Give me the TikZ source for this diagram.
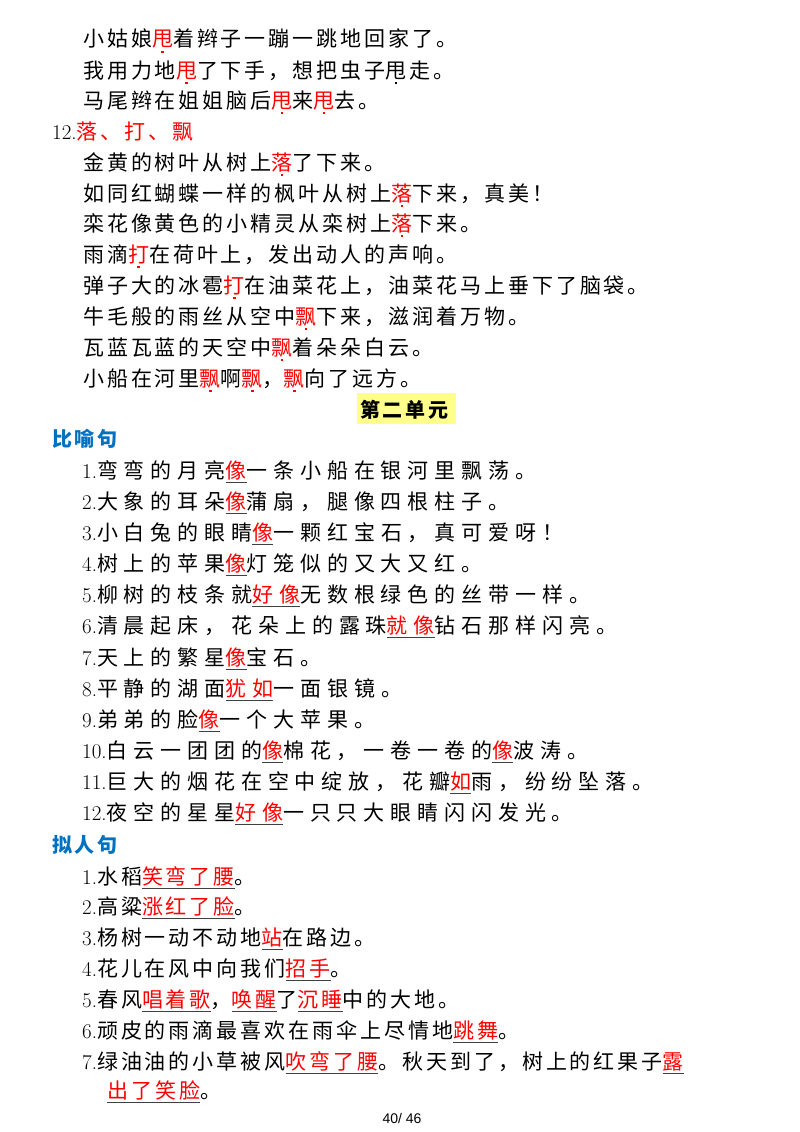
\documentclass[tikz,border=0pt]{standalone}
\usepackage{fontspec}
\setmainfont{Latin Modern Roman}
\newfontfamily\cjka[LetterSpace=14]{Noto Sans CJK SC}
\newfontfamily\cjkb[LetterSpace=28]{Noto Sans CJK SC}
\newfontfamily\pgfont{Liberation Sans}
\definecolor{hblue}{RGB}{0,112,192}
\definecolor{hyel}{RGB}{255,255,140}
\newlength\mywd
\newcommand\Dr[1]{\settowidth{\mywd}{#1}\leavevmode\rlap{\hbox to\mywd{\hss\textcolor{red}{\rule[-6pt]{2.4pt}{2.4pt}}\hss}}\textcolor{red}{#1}}
\newcommand\Dk[1]{\settowidth{\mywd}{#1}\leavevmode\rlap{\hbox to\mywd{\hss\rule[-6pt]{2.4pt}{2.4pt}\hss}}#1}
\newcommand\Rr[1]{\textcolor{red}{#1}}
\newcommand\Ul[1]{\settowidth{\mywd}{#1}\leavevmode\rlap{\textcolor{black!75}{\rule[-5pt]{\mywd}{0.8pt}}}\textcolor{red}{#1}}
\newcommand\N[1]{{\rmfamily\fontsize{21}{21}\selectfont #1}}
\begin{document}
\begin{tikzpicture}[x=1pt,y=-1pt,
  ta/.style={anchor=base west,inner sep=0,font=\cjka\fontsize{21}{21}\selectfont},
  tb/.style={anchor=base west,inner sep=0,font=\cjkb\fontsize{21}{21}\selectfont},
  hd/.style={anchor=base west,inner sep=0,font=\cjka\bfseries\fontsize{20}{20}\selectfont,text=hblue}]
\useasboundingbox (0,0) rectangle (800,1132);
\node[ta] (a1) at (83,47) {小姑娘\Dr{甩}着辫子一蹦一跳地回家了。};
\node[ta] (a2) at (83,78) {我用力地\Dr{甩}了下手，想把虫子\Dk{甩}走。};
\node[ta] (a3) at (83,108) {马尾辫在姐姐脑后\Dr{甩}来\Dr{甩}去。};
\node[ta] (a4) at (52,139) {\N{12.}\Rr{落、打、飘}};
\node[ta] (a5) at (83,170) {金黄的树叶从树上\Dr{落}了下来。};
\node[ta] (a6) at (83,201) {如同红蝴蝶一样的枫叶从树上\Dr{落}下来，真美！};
\node[ta] (a7) at (83,231) {栾花像黄色的小精灵从栾树上\Dr{落}下来。};
\node[ta] (a8) at (83,262) {雨滴\Dr{打}在荷叶上，发出动人的声响。};
\node[ta] (a9) at (83,293) {弹子大的冰雹\Dr{打}在油菜花上，油菜花马上垂下了脑袋。};
\node[ta] (a10) at (83,324) {牛毛般的雨丝从空中\Dr{飘}下来，滋润着万物。};
\node[ta] (a11) at (83,355) {瓦蓝瓦蓝的天空中\Dr{飘}着朵朵白云。};
\node[ta] (a12) at (83,386) {小船在河里\Dr{飘}啊\Dr{飘}，\Dr{飘}向了远方。};
\fill[hyel] (357,393) rectangle (456,424);
\node[anchor=base west,inner sep=0,font=\cjka\bfseries\fontsize{20}{20}\selectfont] (t2) at (360,417) {第二单元};
\node[hd] (h1) at (52,446) {比喻句};
\node[tb] (b1) at (82,478) {\N{1.}弯弯的月亮\Ul{像}一条小船在银河里飘荡。};
\node[tb] (b2) at (82,509) {\N{2.}大象的耳朵\Ul{像}蒲扇，腿像四根柱子。};
\node[tb] (b3) at (82,540) {\N{3.}小白兔的眼睛\Ul{像}一颗红宝石，真可爱呀！};
\node[tb] (b4) at (82,571) {\N{4.}树上的苹果\Ul{像}灯笼似的又大又红。};
\node[tb] (b5) at (82,602) {\N{5.}柳树的枝条就\Ul{好像}无数根绿色的丝带一样。};
\node[tb] (b6) at (82,633) {\N{6.}清晨起床，花朵上的露珠\Ul{就像}钻石那样闪亮。};
\node[tb] (b7) at (82,665) {\N{7.}天上的繁星\Ul{像}宝石。};
\node[tb] (b8) at (82,696) {\N{8.}平静的湖面\Ul{犹如}一面银镜。};
\node[tb] (b9) at (82,727) {\N{9.}弟弟的脸\Ul{像}一个大苹果。};
\node[tb] (b10) at (82,758) {\N{10.}白云一团团的\Ul{像}棉花，一卷一卷的\Ul{像}波涛。};
\node[tb] (b11) at (82,789) {\N{11.}巨大的烟花在空中绽放，花瓣\Ul{如}雨，纷纷坠落。};
\node[tb] (b12) at (82,820) {\N{12.}夜空的星星\Ul{好像}一只只大眼睛闪闪发光。};
\node[hd] (h2) at (52,852) {拟人句};
\node[ta] (c1) at (82,884) {\N{1.}水稻\Ul{笑弯了腰}。};
\node[ta] (c2) at (82,914) {\N{2.}高粱\Ul{涨红了脸}。};
\node[ta] (c3) at (82,945) {\N{3.}杨树一动不动地\Ul{站}在路边。};
\node[ta] (c4) at (82,976) {\N{4.}花儿在风中向我们\Ul{招手}。};
\node[ta] (c5) at (82,1007) {\N{5.}春风\Ul{唱着歌}，\Ul{唤醒}了\Ul{沉睡}中的大地。};
\node[ta] (c6) at (82,1038) {\N{6.}顽皮的雨滴最喜欢在雨伞上尽情地\Ul{跳舞}。};
\node[ta] (c7) at (82,1069) {\N{7.}绿油油的小草被风\Ul{吹弯了腰}。秋天到了，树上的红果子\Ul{露}};
\node[ta] (c8) at (107,1098) {\Ul{出了笑脸}。};
\node[font=\pgfont\fontsize{14}{14}\selectfont,inner sep=0] (pg) at (402,1118) {40/ 46};
\end{tikzpicture}
\end{document}
